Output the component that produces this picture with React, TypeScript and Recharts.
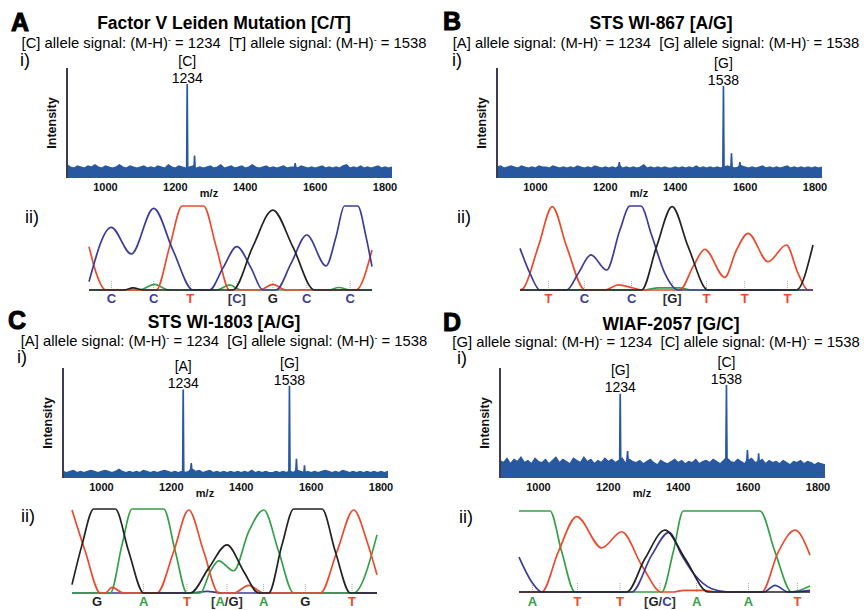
import React from 'react';
import { ComposedChart, Area, XAxis, YAxis, ReferenceDot, LineChart, Line, ReferenceLine } from 'recharts';

const FONT = '"Liberation Sans", Arial, Helvetica, sans-serif';

// ---------- mass spectra (i) ----------
const MZ_GRID = [
  890, 900, 910, 920, 930, 940, 950, 960, 970, 980,
  990, 1000, 1010, 1020, 1030, 1040, 1050, 1060, 1070, 1080,
  1090, 1100, 1110, 1120, 1130, 1140, 1150, 1160, 1170, 1180,
  1190, 1200, 1210, 1220, 1230, 1240, 1250, 1260, 1270, 1280,
  1290, 1300, 1310, 1320, 1330, 1340, 1350, 1360, 1370, 1380,
  1390, 1400, 1410, 1420, 1430, 1440, 1450, 1460, 1470, 1480,
  1490, 1500, 1510, 1520, 1530, 1540, 1550, 1560, 1570, 1580,
  1590, 1600, 1610, 1620, 1630, 1640, 1650, 1660, 1670, 1680,
  1690, 1700, 1710, 1720, 1730, 1740, 1750, 1760, 1770, 1780,
  1790, 1800, 1810, 1820,
];
const MZ_TICKS = [1000, 1200, 1400, 1600, 1800];

const NOISE_A = [
  12, 10, 9, 11, 10, 9, 11, 10, 12, 10,
  9, 11, 10, 9, 10, 12, 10, 9, 11, 10,
  9, 10, 11, 9, 10, 9, 11, 10, 9, 12,
  10, 9, 11, 10, 9, 10, 11, 9, 10, 9,
  10, 11, 9, 10, 12, 9, 10, 11, 9, 10,
  11, 9, 10, 12, 10, 9, 10, 11, 9, 10,
  9, 10, 11, 9, 10, 10, 9, 11, 10, 9,
  10, 9, 10, 11, 9, 10, 9, 10, 9, 11,
  12, 9, 10, 9, 11, 9, 10, 9, 10, 11,
  9, 10, 9, 10,
];
const NOISE_B = [
  10, 11, 9, 10, 11, 10, 9, 11, 10, 9,
  10, 9, 11, 10, 10, 9, 11, 10, 9, 10,
  9, 10, 9, 11, 10, 9, 10, 9, 11, 10,
  9, 10, 9, 10, 9, 11, 9, 10, 9, 10,
  9, 10, 12, 9, 10, 9, 10, 9, 10, 9,
  9, 10, 9, 10, 9, 10, 9, 11, 9, 10,
  9, 10, 9, 10, 9, 10, 11, 10, 9, 10,
  11, 10, 9, 10, 9, 10, 11, 9, 10, 9,
  10, 9, 10, 11, 9, 10, 9, 10, 9, 10,
  9, 10, 9, 10,
];
const NOISE_C = [
  6, 5, 6, 7, 5, 6, 5, 6, 7, 6,
  5, 6, 7, 6, 5, 6, 8, 6, 5, 6,
  5, 6, 5, 7, 6, 5, 6, 5, 6, 7,
  6, 5, 6, 5, 6, 5, 6, 8, 6, 7,
  5, 6, 7, 5, 6, 5, 6, 5, 6, 5,
  6, 5, 6, 5, 7, 5, 6, 5, 6, 5,
  5, 6, 5, 6, 5, 6, 5, 7, 6, 5,
  6, 5, 6, 5, 6, 7, 6, 5, 6, 5,
  7, 6, 5, 6, 5, 6, 5, 6, 5, 6,
  5, 6, 5, 6,
];
const NOISE_D = [
  16, 14, 18, 13, 17, 15, 19, 14, 16, 13,
  18, 15, 14, 17, 13, 16, 19, 14, 17, 15,
  13, 18, 16, 14, 19, 15, 17, 13, 16, 14,
  18, 15, 17, 14, 16, 18, 13, 17, 15, 14,
  16, 13, 15, 17, 14, 12, 16, 14, 13, 15,
  17, 14, 16, 13, 15, 14, 17, 13, 15, 16,
  14, 17, 15, 13, 16, 18, 15, 14, 17, 15,
  13, 16, 18, 14, 15, 17, 13, 16, 14, 15,
  13, 16, 14, 12, 15, 14, 16, 13, 15, 14,
  12, 14, 13, 12,
];

// [m/z, height]
const PEAKS_A = [[1234, 85], [1255, 20], [1543, 13]];
const PEAKS_B = [[1240, 14], [1538, 83], [1561, 22], [1585, 14]];
const PEAKS_C = [[1234, 80], [1257, 13], [1538, 83], [1558, 17], [1581, 11]];
const PEAKS_D = [[1234, 76], [1255, 24], [1538, 84], [1598, 25], [1630, 22]];

const PEAK_LABELS_A = [{ mz: 1234, allele: '[C]' }];
const PEAK_LABELS_B = [{ mz: 1538, allele: '[G]' }];
const PEAK_LABELS_C = [{ mz: 1234, allele: '[A]' }, { mz: 1538, allele: '[G]' }];
const PEAK_LABELS_D = [{ mz: 1234, allele: '[G]' }, { mz: 1538, allele: '[C]' }];

// ---------- chromatograms (ii): [scan, signal] ----------
const A_BLUE = [[0, 10], [22.3, 74.6], [42.3, 42.9], [64.7, 97.2], [84, 47.6], [104, 0], [120.7, 0], [134, 26], [148, 51.6], [162.3, 26], [174, 0], [187.3, 0], [202.3, 31.7], [218, 65.5], [237.3, 28.6], [247.3, 63.5], [255.7, 100], [269, 100], [277.3, 63.5], [283.3, 27.8]];
const A_RED = [[0, 51.6], [7.3, 19.8], [16.7, 0], [67.3, 0], [80.7, 51.6], [93.3, 100], [114.7, 100], [127.3, 51.6], [140.7, 0], [170.7, 0], [184, 6.7], [197.3, 0], [267.3, 0], [283.3, 47.6]];
const A_BLACK = [[0, 0], [35, 0], [44, 2.5], [55, 0], [144, 0], [164, 51.6], [184, 95.2], [204, 51.6], [225.7, 0], [283.3, 0]];
const A_GREEN = [[0, 0], [50, 0], [65.7, 6.7], [80, 0], [128, 0], [140.7, 6], [152, 0], [240, 0], [250, 3], [262, 0], [283.3, 0]];

const B_BLUE = [[0, 49.6], [10, 19.8], [20, 0], [46.7, 0], [58.3, 19.8], [71, 41.7], [86.7, 23.8], [100, 71.4], [110, 100], [121, 100], [131.7, 65.5], [145, 19.8], [158.3, 0], [293.3, 0]];
const B_RED = [[0, 0], [3.3, 2], [18.3, 51.6], [32.3, 99.2], [46.7, 51.6], [65, 0], [85, 0], [98.3, 6], [111.7, 2.8], [121.7, 0], [160, 0], [173.3, 27.8], [185, 48.4], [205, 15.1], [216.7, 47.6], [228.3, 67.5], [248.3, 33.7], [266.7, 53.6], [278.3, 19.8], [288.3, 0], [293.3, 0]];
const B_BLACK = [[0, 0], [121.7, 0], [136.7, 51.6], [152.3, 99.2], [168.3, 51.6], [188.3, 0], [276.7, 0], [293.3, 53.6]];
const B_GREEN = [[0, 0], [125, 0], [138, 2.5], [160, 2.5], [172, 0], [293.3, 0]];

const C_RED = [[0, 98.8], [13.3, 49.4], [28.3, 0], [33, 0], [40, 6.7], [51.7, 0], [85, 0], [101.7, 49.4], [116.7, 98.8], [131.7, 49.4], [146.7, 0], [161.7, 0], [176.7, 9], [191.7, 0], [248.3, 0], [265, 49.4], [281.7, 98.8], [295, 61.3], [305, 21.7]];
const C_BLACK = [[0, 10], [10, 57.3], [21.7, 100], [43.3, 100], [56.7, 49.4], [71.7, 0], [118.3, 0], [136.7, 29.6], [155, 57.3], [171.7, 25.7], [186.7, 0], [196.7, 0], [210, 57.3], [221.7, 100], [250, 100], [263.3, 49.4], [278.3, 0], [305, 0]];
const C_GREEN = [[0, 0], [38.3, 0], [50, 57.3], [60, 100], [91.7, 100], [103.3, 49.4], [115, 0], [128.3, 0], [138.3, 25.7], [146.7, 38.3], [161.7, 26.5], [176.7, 73.1], [191.7, 98.8], [206.7, 49.4], [221.7, 0], [281.7, 0], [305, 69.2]];
const C_BLUE = [[0, 0], [120, 0], [135, 2], [150, 0], [305, 0]];

const D_GREEN = [[0, 100], [31, 100], [42.7, 49.6], [56, 0], [142.7, 0], [154.3, 49.6], [164.3, 100], [241, 100], [256, 49.6], [272.7, 0], [291, 7.4]];
const D_RED = [[0, 0], [22.7, 0], [39.3, 49.6], [57.7, 93], [82.7, 54.5], [102.7, 74.4], [122.7, 33], [142.7, 0], [155, 0], [165, 2], [185, 2], [196, 0], [242.7, 0], [259.3, 49.6], [276, 76.4], [291, 45.5]];
const D_BLACK = [[0, 0], [107.7, 0], [126, 41.3], [146, 76.4], [166, 41.3], [189.3, 0], [291, 0]];
const D_BLUE = [[0, 43], [12.7, 12.4], [22.7, 0], [112.7, 0], [132.7, 45.5], [150, 73.6], [162.7, 45.5], [176, 20.7], [192.7, 4.1], [209.3, 0], [245, 0], [256, 8.3], [269.3, 0], [291, 2]];

// base calls
const CALLS_A = [22.4, 64.7, 101.4, 148, 184, 218, 261.4];
const BASES_A = ['C', 'C', 'T', '[C]', 'G', 'C', 'C'];
const CALLS_B = [28.4, 64.4, 111.7, 152.4, 186.7, 225, 267.7];
const BASES_B = ['T', 'C', 'C', '[G]', 'T', 'T', 'T'];
const CALLS_C = [25, 71.6, 115, 155, 191.6, 233.3, 280];
const BASES_C = ['G', 'A', 'T', '[A/G]', 'A', 'G', 'T'];
const CALLS_D = [13.4, 58.4, 101, 141, 177.7, 229.4, 278.4];
const BASES_D = ['A', 'T', 'T', '[G/C]', 'A', 'A', 'T'];

// text
const PANEL_LETTERS = ['A', 'B', 'C', 'D'];
const TITLES = ['Factor V Leiden Mutation [C/T]', 'STS WI-867 [A/G]', 'STS WI-1803 [A/G]', 'WIAF-2057 [G/C]'];
const ALLELES = [['[C]', '[T]'], ['[A]', '[G]'], ['[A]', '[G]'], ['[G]', '[C]']];
const SIGNALS = [1234, 1538];

const BASE_COLORS: Record<string, string> = { A: '#35a047', C: '#3b3c9a', G: '#222222', T: '#ec4a2c' };
const SPEC_BLUE = '#28589f';

type Pt = { mz: number; v: number };

function buildSpectrum(noise: number[], peaks: number[][]): Pt[] {
  const pts: Pt[] = [];
  MZ_GRID.forEach((mz, i) => {
    if (!peaks.some(([p]) => Math.abs(p - mz) < 2.6)) pts.push({ mz, v: noise[i] });
  });
  for (const [mz, h] of peaks) {
    const i = Math.min(MZ_GRID.length - 1, Math.max(0, Math.round((mz - MZ_GRID[0]) / 10)));
    const base = noise[i];
    pts.push({ mz: mz - 2.2, v: base }, { mz: mz - 0.7, v: h }, { mz: mz + 0.7, v: h }, { mz: mz + 2.2, v: base });
  }
  return pts.sort((a, b) => a.mz - b.mz);
}

const toXY = (arr: number[][]) => arr.map(([x, y]) => ({ x, y }));

const mzLabel = (props: any) => {
  const vb = props.viewBox || {};
  const x = vb.x + vb.width * 0.437;
  const y = vb.y + 18.5;
  return (
    <text x={x} y={y} textAnchor="middle" fontSize={11} fontWeight={700} fontFamily={FONT} fill="#111">
      m/z
    </text>
  );
};

const intensityLabel = (props: any) => {
  const vb = props.viewBox || {};
  const cx = vb.x + vb.width - 15;
  const cy = vb.y + vb.height / 2;
  return (
    <text x={cx} y={cy} transform={`rotate(-90 ${cx} ${cy})`} textAnchor="middle" dominantBaseline="central" fontSize={12.5} fontWeight={700} fontFamily={FONT} fill="#111">
      Intensity
    </text>
  );
};

type SpecCfg = { axisX: number; top: number; noise: number[]; peaks: number[][]; labels: { mz: number; allele: string }[] };

const SPECTRA: SpecCfg[] = [
  { axisX: 66.7, top: 68.3, noise: NOISE_A, peaks: PEAKS_A, labels: PEAK_LABELS_A },
  { axisX: 496.7, top: 68.3, noise: NOISE_B, peaks: PEAKS_B, labels: PEAK_LABELS_B },
  { axisX: 62.7, top: 368.3, noise: NOISE_C, peaks: PEAKS_C, labels: PEAK_LABELS_C },
  { axisX: 500, top: 367.7, noise: NOISE_D, peaks: PEAKS_D, labels: PEAK_LABELS_D },
];

function Spectrum({ cfg }: { cfg: SpecCfg }) {
  const data = buildSpectrum(cfg.noise, cfg.peaks);
  return (
    <div style={{ position: 'absolute', left: cfg.axisX - 30, top: cfg.top - 30 }}>
      <ComposedChart width={365} height={170} data={data} margin={{ top: 30, right: 10, bottom: 0, left: 0 }}>
        <XAxis
          type="number"
          dataKey="mz"
          domain={[890, 1820]}
          ticks={MZ_TICKS}
          interval={0}
          axisLine={false}
          tickLine={false}
          tickSize={0}
          tickMargin={5}
          height={30}
          tick={{ fontSize: 11, fontWeight: 700, fill: '#111', fontFamily: FONT }}
          label={mzLabel}
        />
        <YAxis
          type="number"
          domain={[0, 100]}
          tick={false}
          tickLine={false}
          axisLine={{ stroke: '#3d3d4f', strokeWidth: 2 }}
          width={30}
          label={intensityLabel}
        />
        <Area
          type="linear"
          dataKey="v"
          stroke={SPEC_BLUE}
          strokeWidth={1.2}
          fill={SPEC_BLUE}
          fillOpacity={1}
          dot={false}
          activeDot={false}
          isAnimationActive={false}
        />
        {cfg.labels.map((l) => {
          const pk = cfg.peaks.find(([m]) => m === l.mz);
          const h = pk ? pk[1] : 0;
          return (
            <ReferenceDot
              key={l.mz}
              x={l.mz}
              y={h}
              r={1}
              ifOverflow="visible"
              shape={(p: any) => (
                <g>
                  <text x={p.cx} y={p.cy - 19} textAnchor="middle" fontSize={14} fontFamily={FONT} fill="#000">
                    {l.allele}
                  </text>
                  <text x={p.cx} y={p.cy - 2} textAnchor="middle" fontSize={14} fontFamily={FONT} fill="#000">
                    {l.mz}
                  </text>
                </g>
              )}
            />
          );
        })}
      </ComposedChart>
    </div>
  );
}

type Trace = { color: string; pts: number[][] };
type ChromCfg = { left: number; top: number; width: number; height: number; calls: number[]; bases: string[]; letterOffset: number; traces: Trace[] };

const CHROMS: ChromCfg[] = [
  {
    left: 89.3, top: 206, width: 283.3, height: 84, calls: CALLS_A, bases: BASES_A, letterOffset: 8.3,
    traces: [{ color: BASE_COLORS.A, pts: A_GREEN }, { color: BASE_COLORS.T, pts: A_RED }, { color: BASE_COLORS.C, pts: A_BLUE }, { color: BASE_COLORS.G, pts: A_BLACK }],
  },
  {
    left: 520.3, top: 206, width: 293.3, height: 84, calls: CALLS_B, bases: BASES_B, letterOffset: 8.3,
    traces: [{ color: BASE_COLORS.A, pts: B_GREEN }, { color: BASE_COLORS.T, pts: B_RED }, { color: BASE_COLORS.C, pts: B_BLUE }, { color: BASE_COLORS.G, pts: B_BLACK }],
  },
  {
    left: 71.7, top: 509, width: 305, height: 84, calls: CALLS_C, bases: BASES_C, letterOffset: 8.6,
    traces: [{ color: BASE_COLORS.C, pts: C_BLUE }, { color: BASE_COLORS.A, pts: C_GREEN }, { color: BASE_COLORS.T, pts: C_RED }, { color: BASE_COLORS.G, pts: C_BLACK }],
  },
  {
    left: 519.3, top: 511, width: 291, height: 81, calls: CALLS_D, bases: BASES_D, letterOffset: 9,
    traces: [{ color: BASE_COLORS.A, pts: D_GREEN }, { color: BASE_COLORS.T, pts: D_RED }, { color: BASE_COLORS.C, pts: D_BLUE }, { color: BASE_COLORS.G, pts: D_BLACK }],
  },
];

function makeBaseTick(calls: number[], bases: string[], offset: number) {
  return (props: any) => {
    const { x, y, payload } = props;
    const idx = calls.indexOf(payload.value);
    const label = idx >= 0 ? bases[idx] : '';
    return (
      <text x={x} y={y + offset + 4.6} textAnchor="middle" fontSize={13} fontWeight={700} fontFamily={FONT}>
        {label.split('').map((ch, i) => {
          const c = BASE_COLORS[ch] ?? '#333';
          return (
            <tspan key={i} fill={ch === '[' || ch === ']' || ch === '/' ? '#333' : c}>
              {ch}
            </tspan>
          );
        })}
      </text>
    );
  };
}

function Chromatogram({ cfg }: { cfg: ChromCfg }) {
  const W = Math.round(cfg.width);
  const H = Math.round(cfg.height);
  return (
    <div style={{ position: 'absolute', left: cfg.left - 4, top: cfg.top - 4 }}>
      <LineChart width={W + 8} height={H + 22} margin={{ top: 4, right: 4, bottom: 0, left: 4 }}>
        <XAxis
          type="number"
          dataKey="x"
          domain={[0, cfg.width]}
          ticks={cfg.calls}
          interval={0}
          axisLine={false}
          tickLine={false}
          tickSize={0}
          tickMargin={0}
          height={18}
          tick={makeBaseTick(cfg.calls, cfg.bases, cfg.letterOffset)}
        />
        <YAxis type="number" domain={[0, 100]} hide />
        {cfg.calls.map((p) => (
          <ReferenceLine key={p} segment={[{ x: p, y: 0 }, { x: p, y: 12 }]} stroke="#a8a8a8" strokeWidth={1} strokeDasharray="1 1" />
        ))}
        {cfg.traces.map((t, i) => (
          <Line
            key={i}
            data={toXY(t.pts)}
            dataKey="y"
            type="monotone"
            stroke={t.color}
            strokeWidth={1.7}
            dot={false}
            activeDot={false}
            isAnimationActive={false}
          />
        ))}
      </LineChart>
    </div>
  );
}

function Txt({ x, y, size, bold, children, heavy }: { x: number; y: number; size: number; bold?: boolean; heavy?: boolean; children: React.ReactNode }) {
  return (
    <div
      style={{
        position: 'absolute',
        left: x,
        top: y,
        transform: 'translate(-50%, -50%)',
        fontSize: size,
        fontWeight: bold ? 700 : 400,
        whiteSpace: 'nowrap',
        lineHeight: 1,
        fontFamily: FONT,
        color: '#000',
        WebkitTextStroke: heavy ? '1px #000' : undefined,
      }}
    >
      {children}
    </div>
  );
}

const TEXT_POS = [
  { letter: [20, 22], title: [224, 24], sub: [224, 43], i: [25, 60], ii: [32, 217] },
  { letter: [452, 21], title: [661, 24], sub: [656, 43], i: [457, 60], ii: [464, 217] },
  { letter: [17, 320], title: [224, 323], sub: [224, 341], i: [22, 357], ii: [28, 516] },
  { letter: [452, 322], title: [671, 325], sub: [656, 342], i: [462, 358], ii: [466, 517] },
];

function Subtitle({ a }: { a: string[] }) {
  const sup = <span style={{ fontSize: '0.6em', verticalAlign: '0.55em' }}>-</span>;
  return (
    <>
      {a[0]} allele signal: (M-H){sup} = {SIGNALS[0]}&nbsp;&nbsp;{a[1]} allele signal: (M-H){sup} = {SIGNALS[1]}
    </>
  );
}

export default function App() {
  return (
    <div style={{ position: 'absolute', left: 0, top: 0, width: 864, height: 610, background: '#fff', overflow: 'hidden', fontFamily: FONT }}>
      {TEXT_POS.map((p, k) => (
        <React.Fragment key={k}>
          <Txt x={p.letter[0]} y={p.letter[1]} size={25} bold heavy>{PANEL_LETTERS[k]}</Txt>
          <Txt x={p.title[0]} y={p.title[1]} size={17.5} bold>{TITLES[k]}</Txt>
          <Txt x={p.sub[0]} y={p.sub[1]} size={14.8}><Subtitle a={ALLELES[k]} /></Txt>
          <Txt x={p.i[0]} y={p.i[1]} size={18}>i)</Txt>
          <Txt x={p.ii[0]} y={p.ii[1]} size={18}>ii)</Txt>
        </React.Fragment>
      ))}
      {SPECTRA.map((c, k) => (
        <Spectrum key={k} cfg={c} />
      ))}
      {CHROMS.map((c, k) => (
        <Chromatogram key={k} cfg={c} />
      ))}
    </div>
  );
}
